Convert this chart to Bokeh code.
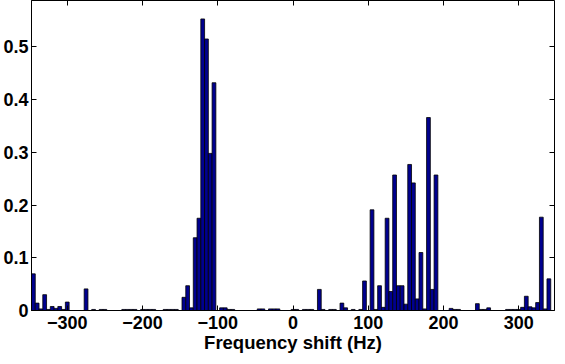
from bokeh.plotting import figure
from bokeh.models import Range1d, FixedTicker, LinearAxis
from bokeh.embed import file_html
from bokeh.resources import INLINE

# histogram bins (centre frequency in Hz) and their heights (non-zero bins only)
freq_hz = [-345, -340, -335, -330, -325, -320, -315, -310, -305, -300,
           -275, -265, -255, -250, -225, -220, -215, -210, -200, -195,
           -190, -185, -170, -165, -160, -155, -145, -140, -135, -130,
           -125, -120, -115, -110, -105, -95, -90, -85, -80,
           -45, -40, -30, -25, -20, 0, 5, 15, 20,
           25, 35, 40, 50, 55, 65, 70, 80, 90, 95,
           105, 110, 115, 120, 125, 130, 135, 140, 145,
           150, 155, 160, 165, 170, 175, 180, 185, 190,
           210, 215, 220, 245, 250, 255, 260, 285, 290, 295,
           300, 305, 310, 315, 320, 325, 330, 335, 340]
fraction = [0.0695, 0.014, 0.003, 0.030, 0.002, 0.0076, 0.004, 0.0076, 0.002, 0.016,
            0.041, 0.002, 0.002, 0.002, 0.002, 0.002, 0.002, 0.002, 0.002, 0.002,
            0.002, 0.002, 0.002, 0.002, 0.002, 0.002, 0.025, 0.047, 0.005, 0.138,
            0.175, 0.553, 0.515, 0.298, 0.432, 0.005, 0.005, 0.002, 0.002,
            0.003, 0.003, 0.003, 0.003, 0.003, 0.002, 0.002, 0.002, 0.002,
            0.002, 0.040, 0.002, 0.002, 0.002, 0.014, 0.005, 0.002, 0.002, 0.056,
            0.191, 0.002, 0.047, 0.006, 0.175, 0.036, 0.257, 0.047, 0.047,
            0.012, 0.277, 0.242, 0.022, 0.110, 0.003, 0.366, 0.040, 0.257,
            0.004, 0.002, 0.002, 0.013, 0.002, 0.002, 0.005, 0.002, 0.002, 0.002,
            0.002, 0.006, 0.027, 0.007, 0.005, 0.015, 0.177, 0.003, 0.060]
bin_width = 5

x_ticks = [-300, -200, -100, 0, 100, 200, 300]
x_tick_labels = ["\u2212300", "\u2212200", "\u2212100", "0", "100", "200", "300"]
y_ticks = [0, 0.1, 0.2, 0.3, 0.4, 0.5]
y_tick_labels = ["0", "0.1", "0.2", "0.3", "0.4", "0.5"]
x_label = "Frequency shift (Hz)"

FONT = "Liberation Sans"
TICK_SIZE = "18px"
X_MIN, X_MAX = -347.5, 347.5
Y_MIN, Y_MAX = 0, 0.588

p = figure(width=557, height=356, output_backend="svg", toolbar_location=None,
           x_range=Range1d(X_MIN, X_MAX), y_range=Range1d(Y_MIN, Y_MAX),
           min_border_left=31, min_border_right=3, min_border_top=0,
           min_border_bottom=46)
p.background_fill_color = "white"
p.border_fill_color = "white"
p.outline_line_color = "black"
p.outline_line_width = 1
p.xgrid.visible = False
p.ygrid.visible = False

p.vbar(x=freq_hz, width=bin_width, top=fraction, bottom=0,
       fill_color="#00008F", line_color="black", line_width=0.8)

def style_axis(ax, labels=True):
    ax.axis_line_color = "black"
    ax.major_tick_line_color = "black"
    ax.major_tick_in = 5
    ax.major_tick_out = 0
    ax.minor_tick_line_color = None
    ax.major_label_text_font = FONT
    ax.major_label_text_font_style = "bold"
    ax.major_label_text_font_size = TICK_SIZE if labels else "0px"
    ax.major_label_text_color = "black"

xa = p.xaxis[0]
xa.ticker = FixedTicker(ticks=x_ticks)
xa.major_label_overrides = dict(zip(x_ticks, x_tick_labels))
style_axis(xa)
xa.major_label_standoff = 5
xa.axis_label = x_label
xa.axis_label_text_font = FONT
xa.axis_label_text_font_style = "bold"
xa.axis_label_text_font_size = "18.5px"
xa.axis_label_text_color = "black"
xa.axis_label_standoff = 0

ya = p.yaxis[0]
ya.ticker = FixedTicker(ticks=y_ticks)
ya.major_label_overrides = dict(zip(y_ticks, y_tick_labels))
style_axis(ya)
ya.major_label_standoff = 3

# mirrored tick marks on the top and right edges of the box (pointing inward)
top_ax = LinearAxis(ticker=FixedTicker(ticks=x_ticks), fixed_location=Y_MAX)
style_axis(top_ax, labels=False)
top_ax.major_tick_in = 0
top_ax.major_tick_out = 5
top_ax.major_label_overrides = {t: "" for t in x_ticks}
p.add_layout(top_ax, "below")

right_ax = LinearAxis(ticker=FixedTicker(ticks=y_ticks), fixed_location=X_MAX)
style_axis(right_ax, labels=False)
right_ax.major_tick_in = 0
right_ax.major_tick_out = 5
right_ax.major_label_overrides = {t: "" for t in y_ticks}
p.add_layout(right_ax, "left")

open("out.html", "w").write(file_html(p, INLINE))
